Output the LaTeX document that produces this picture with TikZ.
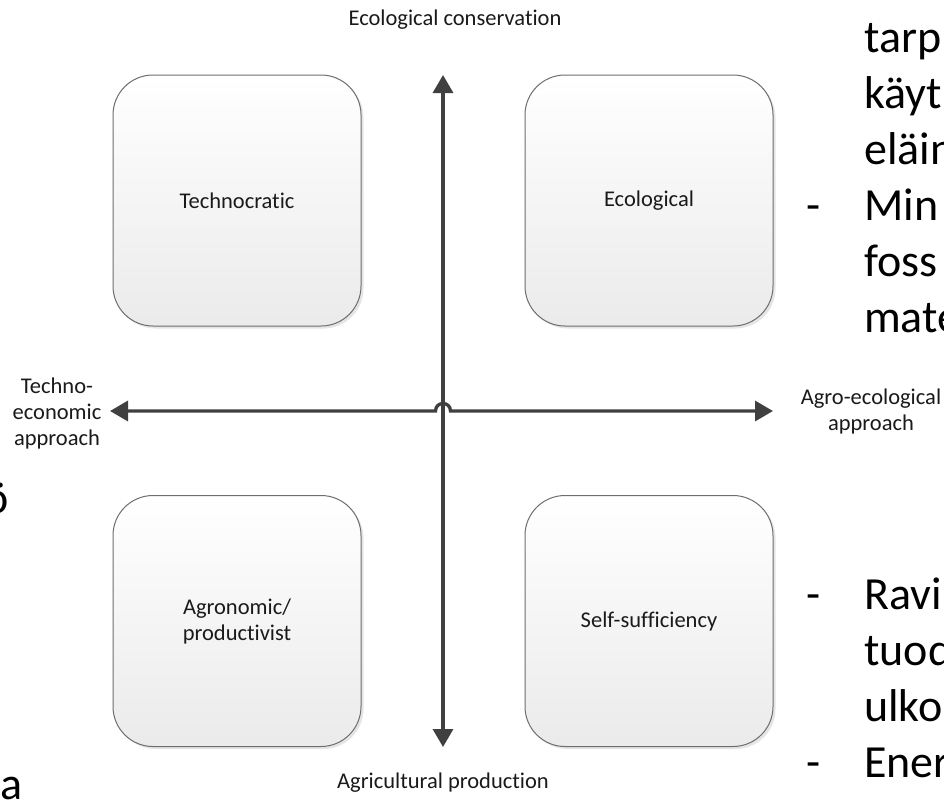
\documentclass[tikz,border=0pt]{standalone}
\usepackage{fontspec}
\setmainfont{Carlito}[Ligatures=NoCommon]
\usetikzlibrary{arrows.meta,shadows}
\definecolor{axisgray}{HTML}{404040}
\definecolor{boxedge}{HTML}{6E6E6E}
\definecolor{txt}{HTML}{1A1A1A}
\newcommand\qlbl{\fontsize{22.5}{26}\selectfont}
\newcommand\qbig{\fontsize{46}{56}\selectfont}
\tikzset{
  quad/.style={draw=boxedge, line width=1pt, rounded corners=40pt,
    minimum width=248pt, minimum height=251pt, inner sep=0pt,
    top color=white, bottom color=black!8,
    drop shadow={shadow xshift=2.5pt, shadow yshift=-2.5pt, fill=black!20, opacity=0.5},
    font=\qlbl, text=txt, align=center},
  lbl/.style={font=\qlbl, text=txt, align=center, inner sep=0pt},
  bigtxt/.style={font=\qbig, text=black, inner sep=0pt},
  axis/.style={draw=axisgray, line width=3.3pt,
    {Triangle[length=18pt,width=20pt]}-{Triangle[length=18pt,width=20pt]}}
}
\begin{document}
\begin{tikzpicture}[x=1pt,y=-1pt]
\useasboundingbox[fill=white] (0,0) rectangle (944,804);
% quadrant boxes
\node[quad] (tech) at (237,200.5) {Technocratic};
\node[quad] (eco) at (649,200.5) {Ecological};
\node[quad] (agro) at (237,621) {Agronomic/\\productivist};
\node[quad] (self) at (649,621) {Self-sufficiency};
% axes
\coordinate (L) at (110,411);
\coordinate (R) at (773,411);
\coordinate (T) at (443,75);
\coordinate (B) at (443,747);
\coordinate (hopL) at (435.5,411);
\coordinate (hopR) at (450.5,411);
\draw[axis] (L) -- (hopL) .. controls (435.5,401) and (450.5,401) .. (hopR) -- (R);
\draw[axis] (B) -- (T);
% axis labels
\node[lbl, anchor=base] (top) at (455,25) {Ecological conservation};
\node[lbl, anchor=base] (bot) at (443,788) {Agricultural production};
\node[lbl] (left) at (57,413) {Techno-\\economic\\approach};
\node[lbl] (right) at (871,411) {Agro-ecological\\approach};
% cut-off slide text, right
\node[bigtxt, anchor=base west] (r1) at (864,52) {tarp};
\node[bigtxt, anchor=base west] (r2) at (864,108) {käyt};
\node[bigtxt, anchor=base west] (r3) at (864,164) {eläin};
\node[bigtxt, anchor=base west] (d1) at (806,220) {-};
\node[bigtxt, anchor=base west] (r4) at (864,220) {Min};
\node[bigtxt, anchor=base west] (r5) at (864,276) {foss};
\node[bigtxt, anchor=base west] (r6) at (864,332) {mate};
\node[bigtxt, anchor=base west] (d2) at (806,609) {-};
\node[bigtxt, anchor=base west] (r7) at (864,609) {Ravi};
\node[bigtxt, anchor=base west] (r8) at (864,665) {tuod};
\node[bigtxt, anchor=base west] (r9) at (864,721) {ulko};
\node[bigtxt, anchor=base west] (d3) at (806,777) {-};
\node[bigtxt, anchor=base west] (r10) at (864,777) {Ener};
% cut-off slide text, left
\node[bigtxt, anchor=base east] (l1) at (9,513) {ö};
\node[bigtxt, anchor=base west] (l2) at (0,799) {a};
\end{tikzpicture}
\end{document}
